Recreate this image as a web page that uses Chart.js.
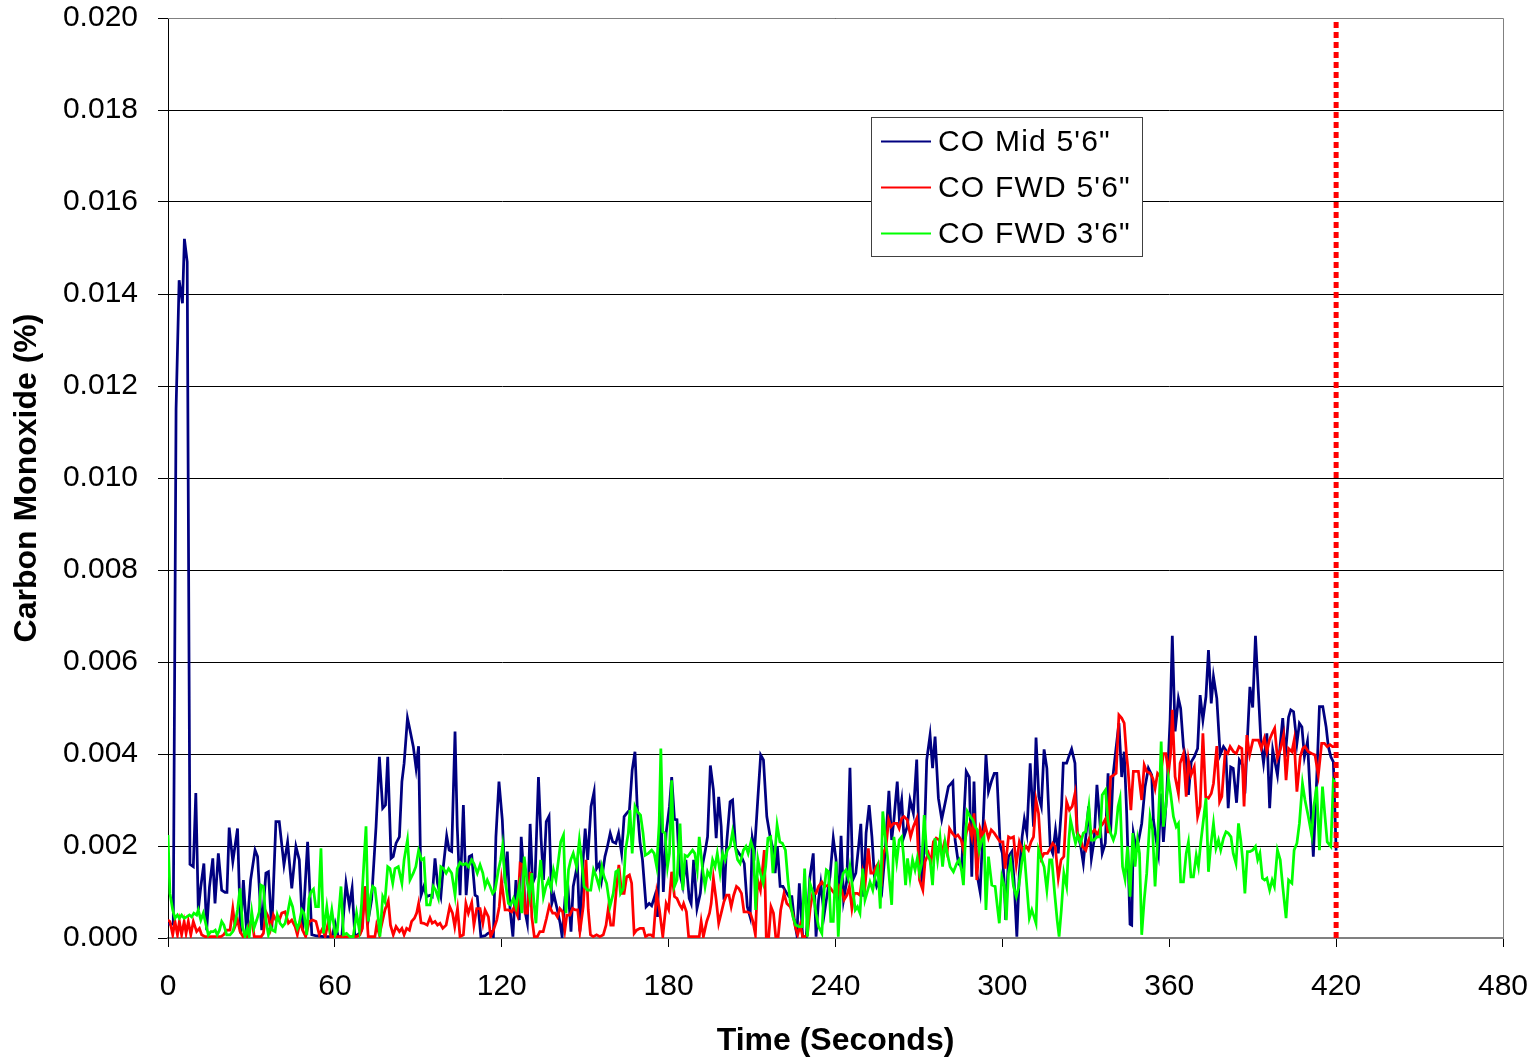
<!DOCTYPE html>
<html>
<head>
<meta charset="utf-8">
<title>Carbon Monoxide</title>
<script src="https://cdn.jsdelivr.net/npm/chart.js@4.4.1/dist/chart.umd.min.js"></script>
<style>
  html, body { margin: 0; padding: 0; background: #fff; }
  canvas { display: block; }
</style>
</head>
<body>
<canvas id="coChart" width="1535" height="1060"></canvas>
<script>
// Axis ticks
const timeTicks = [0, 60, 120, 180, 240, 300, 360, 420, 480];
const coTicks = [0, 0.002, 0.004, 0.006, 0.008, 0.010, 0.012, 0.014, 0.016, 0.018, 0.020];
const coTickLabels = ['0.000', '0.002', '0.004', '0.006', '0.008', '0.010', '0.012', '0.014', '0.016', '0.018', '0.020'];

const seriesNames = ['CO Mid 5\'6"', 'CO FWD 5\'6"', 'CO FWD 3\'6"'];

// end of test marker (seconds)
const testEnd = 420;

// samples are [time (s), CO in thousandths of a percent]
const CO_UNIT = 0.001;

const midSamples = [
  [0,0.3],[1,0.3],[1.9,0.3],[2.9,11.5],[4,14.3],[5.2,13.8],[5.9,15.2],[6.9,14.7],[7.9,1.6],[9.1,1.55],
  [10,3.15],[10.9,0.61],[11.8,1.12],[12.9,1.62],[13.9,0.17],[14.9,1.1],[16.1,1.73],[16.9,0.75],[18.1,1.84],[19.3,1.04],
  [20.5,0.99],[21.2,0.99],[22,2.4],[23.3,1.66],[25,2.38],[26.1,0.1],[27.1,1.26],[28.3,0.1],[29.7,1.26],[31.3,1.91],
  [32.2,1.77],[33.7,0.17],[35.2,1.41],[36.1,1.44],[37.3,0.17],[38.8,2.53],[40,2.53],[41.7,1.59],[43,2.09],[44.5,1.08],
  [46,1.99],[47.2,1.7],[48.4,0.17],[50.2,2.09],[51.7,0.07],[53,0.05],[56,0.03],[59,0.03],[60.1,0.32],[61.2,0.03],
  [62.5,0.03],[64,1.19],[65.2,0.7],[66.2,1.08],[67.2,0.03],[68.8,0.1],[69.6,0.17],[70.8,1.12],[72,0.39],[73.2,0.83],
  [74.8,2.42],[76,3.94],[77.2,2.82],[78.2,2.89],[79,3.94],[80.2,1.73],[81,1.77],[82,2.06],[83.2,2.2],[84.1,3.4],
  [84.9,3.8],[86.1,4.78],[87,4.52],[88.2,4.16],[89.2,3.69],[90.1,4.17],[91,0.93],[92,1.12],[93,0.9],[94.2,0.93],
  [95,0.9],[96,1.73],[96.9,1.19],[98.1,0.9],[99,1.55],[100.2,2.22],[101.1,1.91],[102,1.88],[103.2,4.49],[104,2.42],
  [105,0.93],[106.2,2.89],[107.2,0.93],[108.3,1.77],[109.2,1.8],[110.4,0.93],[111.2,0.9],[112.5,0.03],[114,0.05],[115,0.1],
  [116.4,0.14],[117,0.03],[117.9,2.2],[119,3.4],[120.2,2.57],[121.2,1.19],[122,1.88],[123,0.61],[124,0.03],[125.1,1.26],
  [126.3,0.39],[127,2.2],[127.8,1.48],[128.4,0.57],[129.2,0.32],[130.2,2.48],[131.1,1.19],[132,1.33],[133.2,3.5],[134.1,2.2],
  [135,1.26],[136,2.53],[137,2.65],[138,0.75],[138.8,0.93],[140,0.61],[141,0.32],[141.7,0.03],[142.8,0.9],[143.7,1.19],
  [144.9,0.14],[145.7,1.12],[147.2,1.59],[148.1,0.14],[149.1,1.55],[150,2.38],[150.9,1.7],[152.1,2.86],[153.2,3.18],[154.1,1.51],
  [155.1,1.62],[155.9,1.26],[157.1,1.77],[158,1.99],[159,2.28],[159.9,2.09],[161,2.06],[162,2.28],[163.1,1.84],[164,2.64],
  [164.9,2.71],[165.9,2.78],[166.9,3.65],[167.9,4.05],[168.7,2.86],[169.7,2.09],[170.6,1.7],[171.9,0.68],[173,0.75],[173.9,0.7],
  [175.1,0.93],[176,0.46],[177.2,2.86],[178.1,1],[179.1,2.28],[180.3,2.86],[181.1,3.5],[182.1,2.58],[183,2.57],[184,1.41],
  [185.1,1.12],[186.2,1.7],[187.4,0.86],[188.1,0.75],[189,1.7],[190.2,0.64],[191.4,0.97],[192.3,1.62],[193.2,1.91],[194,2.2],
  [195,3.75],[196.1,3.22],[197.1,2.17],[198,3.07],[198.9,2.42],[199.9,0.83],[200.9,2.09],[202.1,2.96],[203,3],[204.1,1.95],
  [205.3,1.84],[206.2,1.77],[207.2,1.62],[208.3,0.68],[209.3,0.46],[210.1,2.17],[210.9,1.91],[212,2.96],[213.1,3.98],[214.1,3.87],
  [215.3,2.64],[216.5,2.2],[217.3,1.99],[218.3,1.41],[219.1,1.99],[220.1,1.12],[221.1,1.12],[222.2,1],[223.3,0.9],[224.3,0.9],
  [225.2,0.39],[226.1,0.07],[227,1.19],[228.2,0.03],[229.5,0.03],[230.8,1.33],[232,1.84],[233,0.03],[233.9,0.83],[234.7,1.19],
  [235.9,0.5],[236.9,0.9],[238,1.33],[239.2,2.17],[240.2,1.7],[241,0.61],[242,2.22],[242.9,0.83],[244.1,1.26],[245.2,3.7],
  [246.2,1.26],[247.3,1.41],[248.3,1.99],[249.1,2.48],[250.1,0.9],[251,2.28],[252.1,2.89],[253.1,2.2],[254,1.33],[254.8,1.12],
  [255.8,1.26],[256.7,1.04],[257.8,1.84],[258.4,2.42],[259.2,3.2],[260.2,2.13],[261,2.57],[262.2,3.4],[262.9,2.64],[263.8,3],
  [264.6,2.2],[265.8,2.42],[266.8,3],[268,2.71],[269.2,3.88],[270.2,1.7],[271,1.33],[271.8,1.84],[272.8,3.87],[274,4.41],
  [274.9,3.69],[275.8,4.38],[277,3.04],[278.2,2.58],[279.4,2.93],[280.6,3.29],[282.2,3.4],[283,2.13],[284.2,1.62],[285.4,1.55],
  [286,2.42],[287,3.62],[288.1,3.5],[289,1.33],[289.8,3.4],[290.8,1.41],[292,1],[293,2.35],[294.1,3.98],[295,3.18],
  [296.2,3.43],[297.1,3.58],[298,3.58],[299.2,2.02],[300,1.84],[300.6,1.26],[301.2,0.39],[302.2,1.77],[303.4,1.88],[304.2,1.26],
  [305.2,0.03],[306.1,1.41],[307.1,2.2],[307.9,2.58],[308.8,2.28],[310,3.8],[311.2,2.42],[312.1,4.36],[313.1,3.07],[314,2.86],
  [315,4.1],[316,3.69],[317.2,1.99],[318.1,1.84],[319.1,2.35],[320.1,1.84],[321.3,2.89],[321.9,3.8],[323.1,3.8],[324.1,3.98],
  [324.9,4.11],[326.1,3.8],[326.9,2.28],[328.1,2.02],[329.1,1.62],[330,2.2],[331,2.86],[332,1.73],[333,2.13],[334,3.33],
  [335,2.57],[335.9,1.84],[337,2.06],[338,3.58],[338.9,2.28],[339.8,3.54],[340.8,4.09],[341.9,4.67],[342.9,3.5],[343.8,4.05],
  [344.7,2.71],[345.9,0.3],[346.5,0.28],[347.1,2.28],[348,1.99],[348.9,2.09],[350.1,2.49],[351.3,3.29],[352.5,3.69],[353.7,3.54],
  [354.3,2.57],[355.3,2.13],[356.1,1.84],[357,3.14],[357.9,2.09],[359.1,3.14],[360.3,4.74],[361.1,6.57],[362.1,4.49],[363.3,5.21],
  [364.1,4.99],[365.1,4.16],[366.1,3.87],[366.9,3.11],[367.9,3.83],[369,3.94],[370.2,4.12],[371.1,5.28],[372.1,4.74],[373.2,5.25],
  [374.1,6.26],[375.1,5.1],[375.9,5.68],[377.1,5.21],[378.3,3.98],[379.5,4.16],[380.3,4.09],[381.2,2.82],[382.1,3.72],[383,3.69],
  [384.2,2.94],[385.2,3.87],[386.4,3.76],[387.2,3.14],[388.2,4.45],[389,5.46],[390,5.01],[391,6.57],[392,5.39],[393,4.23],
  [393.9,3.8],[395.1,4.45],[396.1,2.82],[397.2,4.09],[398.9,3.54],[399.9,4.2],[400.8,4.78],[401.7,3.94],[402.9,4.8],[403.7,4.96],
  [404.7,4.92],[405.9,4.23],[406.8,4.67],[407.7,4.59],[408.6,3.94],[409.7,4.27],[410.9,2.86],[411.8,1.77],[413,3.43],[414,5.03],
  [415.2,5.03],[416.4,4.59],[417.2,4.16],[418.1,3.94],[419,3.83],[420,1.9]
];

const fwd56Samples = [
  [0,0.39],[0.7,0.36],[1.7,0.07],[2.5,0.36],[3.4,0.07],[4.1,0.36],[4.9,0.07],[5.8,0.36],[6.5,0.1],[7.3,0.36],
  [8.2,0.07],[9.1,0.36],[10.3,0.14],[11.3,0.21],[12.1,0.07],[13.3,0.03],[15,0.03],[17,0.03],[19,0.03],[20,0.07],
  [21.1,0.17],[22.3,0.17],[23.3,0.64],[24.1,0.25],[25,0.39],[25.9,0.14],[27,0.03],[28.5,0.03],[29.2,0.25],[30.1,0.43],
  [31,0.03],[32,0.03],[33.5,0.03],[34.3,0.1],[35.2,0.57],[36.1,0.46],[36.9,0.21],[37.9,0.5],[38.8,0.39],[40,0.39],
  [40.9,0.54],[42.1,0.57],[43.3,0.32],[44.5,0.39],[45.7,0.25],[46.5,0.07],[47.5,0.36],[48.4,0.17],[49.5,0.03],[50.8,0.36],
  [52,0.39],[53.2,0.36],[54.4,0.07],[55.6,0.21],[56.5,0.03],[57.7,0.36],[58.5,0.03],[60,0.03],[62,0.03],[64,0.03],
  [66,0.03],[67.8,0.03],[69,0.07],[69.9,0.21],[70.8,1.12],[71.4,0.54],[72,0.03],[73.2,0.03],[74.4,0.03],[75,0.28],
  [76,0.07],[77.2,0.39],[78,0.61],[79.2,0.81],[80,0.28],[81,0.07],[82,0.25],[83.2,0.14],[84.1,0.21],[84.9,0.07],
  [85.8,0.21],[86.8,0.17],[87.6,0.36],[88.6,0.43],[89.4,0.54],[90.1,0.75],[91,0.33],[92,0.32],[93.2,0.28],[94.2,0.44],
  [95,0.32],[96,0.36],[96.9,0.28],[97.8,0.32],[98.8,0.21],[100,0.28],[101.3,0.68],[102.3,0.54],[103.1,0.25],[104.1,0.64],
  [105,0.03],[106.2,0.07],[107.1,0.75],[108,0.54],[109.2,0.77],[110,0.28],[111,0.64],[112.2,0.64],[113.2,0.32],[114,0.61],
  [115.2,0.46],[116,0.03],[117,0.17],[118.2,0.39],[119.1,0.68],[119.9,1.26],[121.2,0.61],[122.4,0.61],[123.6,0.57],[124.5,0.67],
  [125.6,0.5],[126.6,1.62],[127.5,1.59],[128.4,0.54],[129.2,0.54],[130.2,1.44],[130.8,0.46],[131.7,0.03],[132.8,0.03],[133.7,0.14],
  [134.9,0.14],[136.1,0.43],[137.1,0.7],[138.3,0.54],[139.2,0.54],[140,0.46],[140.9,0.64],[141.9,0.57],[142.7,0.17],[143.4,0.5],
  [144.5,0.5],[145.5,0.64],[146.4,0.61],[147.3,0.61],[148.1,0.14],[149.3,0.68],[150.3,1.7],[151.1,0.61],[151.9,0.07],[152.9,0.03],
  [154.1,0.07],[155.3,0.03],[156.5,0.07],[157.5,0.28],[158.3,0.64],[159.2,0.28],[160.1,0.28],[161.3,1.12],[162.1,1.59],[163.1,0.97],
  [164,0.97],[164.9,1.33],[165.9,1.37],[166.7,1.19],[167.6,0.1],[168.5,0.17],[169.7,0.21],[170.9,0.21],[171.7,0.03],[172.7,0.07],
  [173.6,0.07],[174.5,0.03],[175.7,0.97],[176.7,0.61],[177.9,0.03],[179.1,0.75],[180,0.62],[181.1,1.44],[182.1,0.9],[183,0.86],
  [184,0.72],[184.8,0.64],[185.4,0.75],[186.4,0.57],[187.2,0.03],[188.5,0.03],[190,0.03],[191,0.03],[191.7,0.36],[192.5,0.03],
  [193.7,0.36],[194.7,0.54],[195.3,0.75],[196.1,1.3],[197.1,0.83],[198,0.32],[198.9,0.54],[199.9,0.79],[200.8,0.93],[201.7,0.93],
  [202.5,0.68],[203.4,0.93],[204.4,1.12],[205.2,1.08],[206.2,0.97],[207.1,0.57],[208.2,0.57],[209.4,0.54],[210.3,0.36],[211.2,0.07],
  [212,1.26],[213,1.04],[213.9,1.59],[214.4,1.91],[215.1,0.03],[216,0.03],[216.8,0.68],[217.7,0.54],[218.5,0.03],[219.4,0.03],
  [220.3,0.61],[221.5,0.97],[222.5,0.75],[223.7,0.68],[224.6,0.54],[225.5,0.25],[226.4,0.07],[227.3,0.28],[228.2,0.03],[229.1,0.03],
  [229.9,0.07],[230.9,0.64],[231.8,0.97],[233,0.97],[233.9,1.12],[235.1,1.22],[236.2,1.12],[237.4,1.15],[238.7,1.04],[239.6,0.97],
  [240.7,0.93],[241.4,1.12],[242.2,1.04],[243.1,0.83],[244.1,0.93],[245,1.12],[245.9,0.64],[246.8,0.97],[247.9,0.97],[248.8,0.93],
  [249.8,1.41],[250.6,1.12],[251.8,1.95],[252.7,1.41],[253.6,1.41],[254.6,1.55],[255.4,1.62],[256.4,1.12],[257.2,1.84],[258.2,1.99],
  [259.1,2.57],[259.9,2.42],[260.9,2.49],[262.1,2.49],[262.9,2.38],[263.8,2.6],[264.6,2.64],[265.8,2.57],[267,2.2],[268,2.42],
  [269.2,2.6],[270.2,1.26],[271.4,1.04],[272.2,1.66],[273.4,1.84],[274.3,1.62],[275.2,2.09],[276.2,2.17],[277.3,2.13],[278.2,1.84],
  [279.1,2.06],[280.1,1.84],[281,2.38],[282,2.28],[283.1,2.2],[284,2.24],[285.2,2.13],[286,1.91],[287.1,2.3],[288.1,2.46],
  [289,2.2],[289.8,2.71],[290.8,1.26],[292,2.38],[293,2.2],[293.8,2.46],[295,2.17],[296,2.35],[297.1,2.28],[298.3,2.17],
  [299.2,2.09],[300.2,2.09],[301,1.51],[302.2,2.2],[303,2.17],[304,2.2],[305,1.59],[306.1,2.09],[307.3,1.88],[308.5,1.99],
  [309.4,1.91],[310.3,2.09],[311.2,2.2],[312.1,3],[313,2.71],[314,1.73],[315,1.84],[316.2,1.84],[317.2,1.95],[318.1,2.06],
  [319,1.99],[320.1,1.3],[321.1,1.7],[322.1,1.77],[323.1,2.96],[324.1,2.78],[325.1,2.86],[326.1,3.14],[326.9,2.28],[327.9,2.2],
  [328.8,1.99],[330,1.91],[331,2.13],[332,2.28],[333.2,2.35],[334.2,2.24],[335.3,2.42],[336.2,2.49],[337.2,2.6],[338,2.28],
  [338.9,3.5],[340,3.54],[340.9,3.58],[341.9,4.85],[342.9,4.78],[343.8,4.67],[344.6,4.01],[345.2,3.65],[346.2,2.78],[347.1,3.62],
  [348,3.62],[348.9,3.62],[350.1,3],[351,3.76],[351.9,3.62],[353.1,3.58],[354.1,3.47],[354.9,3.25],[355.8,3.58],[356.8,3.51],
  [357.9,4.01],[358.8,4.01],[359.7,3.58],[360.5,4.01],[361.1,4.96],[362.1,3.51],[363.3,3.14],[363.9,3.8],[365.1,4.01],[366.1,3.07],
  [366.9,3.87],[367.8,3.54],[369,3.72],[370.2,2.64],[371.1,2.86],[372.1,4.45],[373.1,3.07],[374.1,3.04],[375.1,3.14],[375.9,3.36],
  [377.1,4.17],[378.1,2.96],[378.9,3.07],[380.1,4.05],[381,4.01],[381.9,4.16],[383.1,4.05],[384.1,4.01],[385.1,4.16],[386.1,4.12],
  [386.9,2.86],[387.9,4.41],[388.9,3.98],[390.1,4.3],[391.2,4.3],[392.1,4.3],[393.1,4.12],[394.2,4.34],[395.1,4.05],[396,4.3],
  [397,4.45],[397.9,4.56],[398.9,3.91],[399.9,4.09],[401.1,4.41],[402,3.43],[402.9,4.12],[404.1,4.05],[404.9,4.3],[405.9,3.18],
  [407.1,3.94],[408,4.12],[408.8,4.16],[410,4.05],[411.2,4.01],[412.4,3.98],[413.6,3.54],[414.8,4.23],[415.8,4.23],[416.8,4.16],
  [417.8,4.2],[418.7,4.16],[419.6,4.16]
];

const fwd36Samples = [
  [0,2.24],[0.7,0.97],[1.7,0.61],[2.5,0.43],[3.4,0.5],[4.1,0.43],[4.9,0.5],[5.8,0.43],[6.7,0.46],[7.7,0.5],
  [8.5,0.46],[9.3,0.54],[10.3,0.5],[10.9,0.61],[11.8,0.39],[12.7,0.54],[13.7,0.28],[14.5,0.07],[15.4,0.14],[16.3,0.14],
  [17,0.17],[17.7,0.07],[18.5,0.17],[19.3,0.36],[20.1,0.28],[21.1,0.07],[22.3,0.07],[23.3,0.14],[24.1,0.32],[25,0.61],
  [25.9,1.08],[26.8,0.25],[27.7,0.03],[28.5,0.21],[29.2,0.03],[30.1,0.57],[30.9,0.21],[31.9,0.39],[32.8,0.57],[33.4,1.15],
  [34.3,1.12],[35.2,0.39],[36.1,0.07],[36.9,0.25],[37.6,0.17],[38.5,0.14],[39.3,0.5],[40.3,0.32],[41.2,0.25],[42.1,0.32],
  [43,0.54],[43.9,0.83],[44.8,0.68],[45.7,0.36],[46.5,0.21],[47.2,0.32],[48.1,0.61],[48.9,0.54],[49.9,0.07],[50.7,0.86],
  [51.4,1],[52.3,1.06],[53.1,0.68],[54.1,0.68],[55,1.95],[55.9,0.1],[57.1,0.68],[58,0.25],[58.9,0.61],[60.1,0.07],
  [60.9,0.17],[62.2,1.12],[63.1,0.07],[64.2,0.1],[65.4,0.03],[66.6,0.03],[67.8,0.54],[68.8,0.17],[69.6,0.75],[70.5,1.7],
  [71.2,2.43],[72,0.36],[72.9,0.93],[73.6,1.12],[74.4,1.08],[75.3,0.61],[76.2,0.03],[77.2,0.9],[78,0.79],[79,1.55],
  [79.8,1.51],[80.8,1.19],[81.6,1.51],[82.8,1.55],[84.1,1.19],[84.9,1.7],[86.1,2.13],[87,1.26],[88.2,1.41],[89.1,1.55],
  [90.1,1.9],[91.2,1.7],[92,1.73],[93,0.72],[94.2,0.72],[95.4,1.12],[96.2,1.04],[97.2,0.86],[98.1,1.55],[99,1.51],
  [100,1.41],[100.9,1.51],[102,1.41],[103.2,0.93],[104,1.51],[105,1.64],[106,1.59],[107.1,1.62],[108,1.55],[109.2,1.7],
  [110,1.62],[111.2,1.41],[112.2,1.59],[113.2,1.41],[114,1.12],[114.8,1.26],[115.8,1.12],[116.7,0.97],[117.6,1.04],[118.8,1.48],
  [119.6,1.7],[120.3,2],[121.2,1.26],[122.4,0.75],[123.2,0.72],[124.2,0.86],[125.1,0.68],[126.3,1.12],[127.2,0.54],[128.1,1.77],
  [129,1.26],[130,0.9],[130.8,1.41],[131.6,0.75],[132.3,0.32],[133.2,1.19],[134,1.7],[135,0.9],[135.9,1.12],[136.8,1.26],
  [137.7,1.08],[138.6,1.48],[139.5,1.26],[140.4,1.7],[141.2,2.09],[142.2,2.24],[143.1,0.54],[144,1.48],[144.8,1.7],[145.7,1.84],
  [146.9,1.55],[147.9,2.13],[148.7,1.7],[149.6,1.12],[150.8,1.04],[152,1.04],[153,1.48],[154,1.33],[155,1.12],[156,1.55],
  [156.8,1.33],[157.7,1.19],[158.9,0.68],[160.1,0.97],[161,1.44],[161.9,1.48],[162.7,0.97],[163.7,1.08],[164.5,1.91],[165.5,2.28],
  [166.1,2.78],[166.9,1.84],[167.9,2.86],[168.7,2.75],[169.9,2.67],[170.8,2.28],[171.6,1.8],[172.7,1.84],[173.9,1.91],[174.8,1.84],
  [175.7,1.55],[176.6,2.49],[177.2,4.12],[177.9,2.31],[178.7,2.28],[179.6,1.55],[180.3,1.84],[181.1,3.43],[182.1,1.12],[183,1.26],
  [184.1,2.49],[185.1,1.04],[185.9,1.8],[186.8,1.77],[187.7,1.84],[188.6,1.91],[189.4,1.84],[190.3,1.48],[191,2.2],[192.1,1.55],
  [193.1,1.12],[194,1.44],[194.9,1.33],[195.8,1.7],[196.7,1.55],[197.5,1.84],[198.5,1.41],[199.4,1.84],[200.3,1.7],[201.1,1.91],
  [202.1,1.99],[203,2.31],[203.9,1.99],[204.8,1.7],[205.7,1.62],[206.9,1.91],[207.8,1.99],[208.6,1.84],[209.6,2.09],[210.5,1.91],
  [211.3,0.61],[212.1,1.7],[213,1.41],[214,1.19],[214.9,1.55],[215.7,2.17],[216.7,2.2],[217.5,1.41],[218.4,1.99],[219,2.46],
  [220,2.09],[220.9,2.06],[222,1.91],[222.9,1.26],[223.8,0.75],[224.7,0.46],[225.7,0.28],[226.9,0.25],[228.1,0.25],[228.9,1.51],
  [229.9,0.03],[230.8,1.19],[232,0.97],[233,0.54],[233.9,0.25],[235.1,0.1],[235.9,1.04],[236.7,1.48],[237.5,1.44],[238.3,0.36],
  [239.2,0.36],[240.2,1.66],[241,0.03],[241.9,1.12],[242.8,1.41],[243.8,1.48],[244.6,1.3],[245.2,1.55],[246.1,1.12],[247.1,0.61],
  [247.9,0.68],[248.8,0.54],[249.8,1.51],[250.6,0.83],[251.6,1.04],[252.4,1.22],[253.4,1.04],[254.2,1.33],[255.2,1.55],[256.1,0.64],
  [257,2.75],[257.8,2.24],[258.7,1.77],[259.4,1.26],[260.2,0.72],[261,2.2],[262,1.66],[262.9,2.13],[263.8,2.2],[264.4,1.84],
  [265.2,1.15],[265.9,1.73],[266.8,1.3],[267.7,1.7],[268.6,1.48],[269.4,1.73],[270.2,1.41],[271,1.62],[271.9,2.67],[272.8,1.84],
  [274,1.7],[274.9,1.15],[275.8,2.17],[276.7,1.7],[277.6,2.17],[278.5,1.55],[279.4,2.09],[280.2,1.84],[281.2,1.55],[282.4,1.44],
  [283.6,1.62],[284.5,1.7],[285.4,1.44],[286,1.15],[286.8,2.28],[287.4,2.75],[288.2,2.67],[289.3,2.57],[290.2,2.42],[291,2.35],
  [291.7,1.91],[292.6,2.13],[293.4,2.2],[294.1,0.61],[295,1.77],[296.2,1.15],[297.4,1.12],[298.2,0.68],[298.9,0.32],[299.8,1.33],
  [300.7,1.12],[301.4,0.39],[302.2,1.41],[303,1.66],[304,1.12],[305,0.9],[305.9,1.12],[307,1.66],[307.8,1.91],[308.8,1.12],
  [309.7,0.43],[310.6,0.61],[311.4,0.46],[312.1,0.32],[313,1.91],[313.9,1.73],[315,1.55],[316,1.04],[317,1.7],[317.8,1.7],
  [318.8,0.97],[319.7,0.39],[320.4,0.03],[321.2,0.61],[322.1,1.41],[323.1,1.12],[323.9,2.13],[324.5,2.57],[325.5,2.28],[326.3,2.06],
  [327.1,2.24],[328.1,2.06],[329.1,2.28],[329.9,2.31],[331.1,2.86],[332,2.13],[332.9,2.13],[334.1,2.2],[335.1,2.2],[335.9,3.11],
  [337.1,3.22],[337.9,2.57],[338.9,2.28],[339.9,2.13],[340.7,2.28],[341.6,2.86],[342.3,3.04],[343.2,1.55],[344.1,1.28],[345,1.99],
  [345.9,0.9],[346.9,2.28],[347.7,1.55],[348.6,2.13],[349.3,1.84],[350.1,0.07],[351,0.83],[351.9,1.41],[353.1,2.64],[354,2.35],
  [354.9,1.12],[355.8,2.13],[356.5,3.14],[357.1,4.27],[357.9,2.42],[358.8,2.86],[359.7,3.47],[360.5,3.14],[361.5,2.64],[362.5,2.42],
  [363.3,2.49],[364.1,1.22],[365.1,1.22],[366.1,1.84],[366.9,2.09],[367.8,1.33],[368.7,1.33],[369.7,1.8],[370.5,1.55],[371.3,2.06],
  [372.3,2.57],[373.2,3.04],[374.1,1.44],[374.9,1.99],[375.9,2.49],[376.8,1.95],[377.7,2.13],[378.5,1.91],[379.5,2.17],[380.4,2.31],
  [381.2,2.28],[382.2,2.2],[383,1.84],[384,1.62],[384.9,2.49],[385.7,2.13],[386.4,1.7],[387.2,0.97],[388.1,1.88],[389,1.88],
  [390,1.91],[391,1.99],[391.8,1.7],[392.6,1.84],[393.5,1.3],[394.3,1.26],[395.1,1.3],[396.1,1.04],[397,1.26],[397.8,1.12],
  [398.9,1.91],[399.9,1.7],[400.8,1.12],[402,0.43],[402.9,1.26],[404.1,1.19],[404.9,1.91],[405.9,2.06],[406.8,2.49],[407.9,3.36],
  [408.8,3],[410,2.64],[411.2,2.24],[412,2.86],[413,3.29],[414,1.91],[415.1,3.29],[416,2.64],[416.8,2.09],[418.1,1.99],
  [419,3.43],[419.8,3.36]
];

const toPoints = samples => samples.map(([t, v]) => ({ x: t, y: v * CO_UNIT }));

const FONT = '"Liberation Sans", Arial, Helvetica, sans-serif';

// frame on top/right and the boxed legend inside the plot
const framePlugin = {
  id: 'frameAndLegend',
  afterDraw(chart) {
    const ctx = chart.ctx;
    const a = chart.chartArea;
    ctx.save();
    ctx.strokeStyle = '#808080';
    ctx.lineWidth = 1;
    ctx.beginPath();
    ctx.moveTo(a.left, a.top + 0.5);
    ctx.lineTo(a.right + 0.5, a.top + 0.5);
    ctx.lineTo(a.right + 0.5, a.bottom);
    ctx.stroke();

    const bx = 871, by = 117, bw = 271, bh = 139;
    ctx.fillStyle = '#fff';
    ctx.fillRect(bx, by, bw, bh);
    ctx.strokeStyle = '#404040';
    ctx.strokeRect(bx + 0.5, by + 0.5, bw, bh);

    ctx.font = '30px ' + FONT;
    ctx.textBaseline = 'middle';
    ctx.textAlign = 'left';
    if ('letterSpacing' in ctx) ctx.letterSpacing = '1.2px';
    chart.data.datasets.filter(d => d.label).forEach((d, i) => {
      const cy = by + 24.5 + i * 46;
      ctx.strokeStyle = d.borderColor;
      ctx.lineWidth = 2;
      ctx.beginPath();
      ctx.moveTo(bx + 10, cy);
      ctx.lineTo(bx + 60, cy);
      ctx.stroke();
      ctx.fillStyle = '#000';
      ctx.fillText(d.label, bx + 67, cy + 1);
    });
    ctx.restore();
  }
};

// labels may hang outside the plot; don't let them shrink it
const noScalePadding = s => {
  s.paddingTop = 0;
  s.paddingBottom = 0;
  s.paddingLeft = 0;
  s.paddingRight = 0;
};

const lineStyle = { pointRadius: 0, borderWidth: 2.75, tension: 0, fill: false };

new Chart(document.getElementById('coChart'), {
  type: 'line',
  data: {
    datasets: [
      { label: seriesNames[0], data: toPoints(midSamples), borderColor: '#000080', order: 3, ...lineStyle },
      { label: seriesNames[1], data: toPoints(fwd56Samples), borderColor: '#ff0000', order: 2, ...lineStyle },
      { label: seriesNames[2], data: toPoints(fwd36Samples), borderColor: '#00ff00', order: 1, ...lineStyle },
      {
        data: [{ x: testEnd, y: coTicks[0] }, { x: testEnd, y: coTicks[coTicks.length - 1] }],
        borderColor: '#ff0000', borderWidth: 5, borderDash: [6, 4], pointRadius: 0, order: 0
      }
    ]
  },
  options: {
    responsive: false,
    animation: false,
    devicePixelRatio: 1,
    layout: { padding: { top: 18, right: 32, left: 0, bottom: 0 } },
    plugins: { legend: { display: false }, tooltip: { enabled: false } },
    scales: {
      x: {
        type: 'linear',
        min: timeTicks[0],
        max: timeTicks[timeTicks.length - 1],
        afterBuildTicks: s => { s.ticks = timeTicks.map(v => ({ value: v })); },
        afterFit: s => { s.height = 122; noScalePadding(s); },
        grid: { drawOnChartArea: false, drawTicks: true, tickLength: 9, color: '#000' },
        border: { color: '#808080', width: 2 },
        ticks: { color: '#000', padding: 22, maxRotation: 0, font: { family: FONT, size: 30 }, callback: v => String(v) },
        title: { display: true, text: 'Time (Seconds)', color: '#000', padding: { top: 0, bottom: 0 }, font: { family: FONT, size: 32, weight: 'bold' } }
      },
      y: {
        min: coTicks[0],
        max: coTicks[coTicks.length - 1],
        afterBuildTicks: s => { s.ticks = coTicks.map(v => ({ value: v })); },
        afterFit: s => { s.width = 168; noScalePadding(s); },
        grid: { color: '#000', lineWidth: 1, tickLength: 10 },
        border: { color: '#000', width: 1 },
        ticks: { color: '#000', padding: 20, font: { family: FONT, size: 30 }, callback: (v, i) => coTickLabels[i] },
        title: { display: true, text: 'Carbon Monoxide (%)', color: '#000', padding: { top: 8, bottom: 0 }, font: { family: FONT, size: 32, weight: 'bold' } }
      }
    }
  },
  plugins: [framePlugin]
});
</script>
</body>
</html>
